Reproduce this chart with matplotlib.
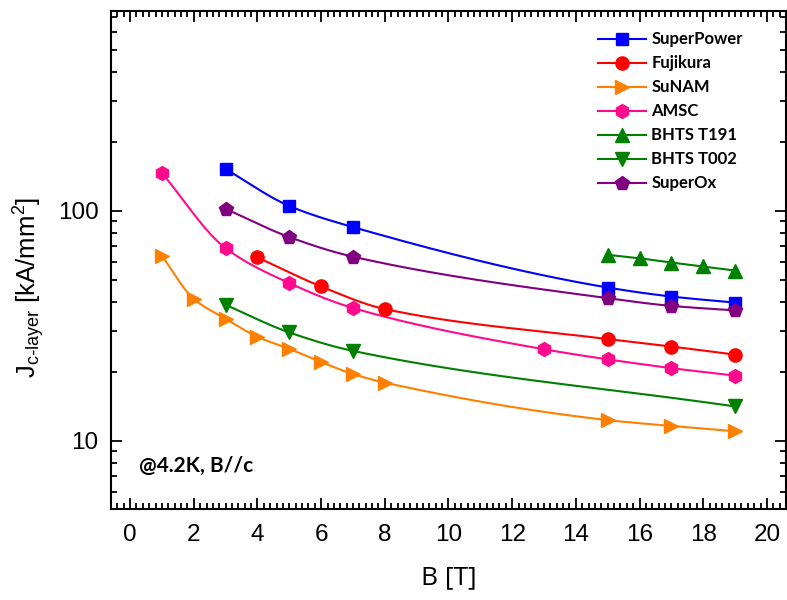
import numpy as np
import matplotlib
matplotlib.use("Agg")
import matplotlib.pyplot as plt
from matplotlib.ticker import MultipleLocator, LogLocator, NullFormatter, FixedLocator, FixedFormatter

# ---------------- data ----------------
sp_B = [3, 5, 7, 15, 17, 19]
sp_J = [152, 105, 85, 46.4, 42.4, 39.9]

fj_B = [4, 6, 8, 15, 17, 19]
fj_J = [62.7, 46.9, 37.4, 27.7, 25.7, 23.7]

sn_B = [1, 2, 3, 4, 5, 6, 7, 8, 15, 17, 19]
sn_J = [63.7, 41.4, 33.9, 28.3, 25.1, 22.0, 19.5, 17.9, 12.3, 11.6, 11.0]

am_B = [1, 3, 5, 7, 13, 15, 17, 19]
am_J = [146, 68.8, 48.5, 37.8, 25.0, 22.6, 20.7, 19.2]

t191_B = [15, 16, 17, 18, 19]
t191_J = [64.4, 62.2, 59.6, 57.3, 55.0]

t002_B = [3, 5, 7, 19]
t002_J = [39.0, 29.6, 24.6, 14.1]

so_B = [3, 5, 7, 15, 17, 19]
so_J = [102, 76.9, 63.2, 41.7, 38.6, 36.9]

series = [
    ("SuperPower", sp_B, sp_J, "#0000FF", "s", 9),
    ("Fujikura", fj_B, fj_J, "#FF0000", "o", 9.5),
    ("SuNAM", sn_B, sn_J, "#FF8000", ">", 10),
    ("AMSC", am_B, am_J, "#FF0A8C", "h", 10),
    ("BHTS T191", t191_B, t191_J, "#008000", "^", 10),
    ("BHTS T002", t002_B, t002_J, "#008000", "v", 10),
    ("SuperOx", so_B, so_J, "#800080", "p", 10.5),
]

x_ticks = [0, 2, 4, 6, 8, 10, 12, 14, 16, 18, 20]
y_ticks = [10, 100]
y_tick_labels = ["10", "100"]


def smooth(xs, ys, n=40):
    """Monotone cubic (Fritsch-Carlson) through points, in log-y space."""
    x = np.asarray(xs, float)
    y = np.log10(np.asarray(ys, float))
    if len(x) < 3:
        return x, 10 ** y
    h = np.diff(x)
    d = np.diff(y) / h
    m = np.zeros_like(y)
    m[0] = d[0]
    m[-1] = d[-1]
    for i in range(1, len(x) - 1):
        if d[i - 1] * d[i] <= 0:
            m[i] = 0
        else:
            w1 = 2 * h[i] + h[i - 1]
            w2 = h[i] + 2 * h[i - 1]
            m[i] = (w1 + w2) / (w1 / d[i - 1] + w2 / d[i])
    xo, yo = [], []
    for i in range(len(x) - 1):
        t = np.linspace(0, 1, n, endpoint=(i == len(x) - 2))
        h00 = 2 * t**3 - 3 * t**2 + 1
        h10 = t**3 - 2 * t**2 + t
        h01 = -2 * t**3 + 3 * t**2
        h11 = t**3 - t**2
        xo.append(x[i] + t * h[i])
        yo.append(h00 * y[i] + h10 * h[i] * m[i] + h01 * y[i + 1] + h11 * h[i] * m[i + 1])
    return np.concatenate(xo), 10 ** np.concatenate(yo)


plt.rcParams['mathtext.default'] = 'regular'

fig = plt.figure(figsize=(7.87, 6.0), dpi=100)
ax = fig.add_axes([111 / 787, 1 - 509 / 600, 675 / 787, 498 / 600])

for name, B, J, c, mk, ms in series:
    xs, ys = smooth(B, J)
    ax.plot(xs, ys, color=c, lw=1.5, zorder=2)
    ax.plot(B, J, linestyle="none", marker=mk, color=c, ms=ms, mec=c, zorder=3)
    ax.plot([], [], color=c, lw=1.5, marker=mk, ms=ms, mec=c, label=name)

ax.set_yscale("log")
ax.set_xlim(-0.6, 20.6)
ax.set_ylim(5.05, 740)

ax.xaxis.set_major_locator(FixedLocator(x_ticks))
ax.xaxis.set_major_formatter(FixedFormatter([str(t) for t in x_ticks]))
ax.xaxis.set_minor_locator(MultipleLocator(0.2))
ax.yaxis.set_major_locator(FixedLocator(y_ticks))
ax.yaxis.set_major_formatter(FixedFormatter(y_tick_labels))
ax.yaxis.set_minor_locator(LogLocator(base=10, subs=np.arange(2, 10), numticks=20))
ax.yaxis.set_minor_formatter(NullFormatter())

tick_font = 'Liberation Sans'
ax.tick_params(which="both", direction="in", top=True, right=True, width=1.3, color="black")
ax.tick_params(which="major", length=8)
ax.tick_params(axis="x", which="major", pad=11)
ax.tick_params(axis="y", which="major", pad=9)
ax.tick_params(which="minor", length=4)
for lbl in ax.get_xticklabels() + ax.get_yticklabels():
    lbl.set_fontfamily(tick_font)
    lbl.set_fontsize(17.5)
for s in ax.spines.values():
    s.set_linewidth(1.5)

ax.set_xlabel("B [T]", fontsize=19, family="Open Sans", labelpad=14)
ax.set_ylabel(r"J$_{\mathregular{c\text{-}layer}}$ [kA/mm$^{\mathregular{2}}$]",
              fontsize=18.5, family="Liberation Sans")
ax.yaxis.set_label_coords(-0.095, 0.444)

ax.text(0.041, 0.086, "@4.2K, B//c", transform=ax.transAxes, fontsize=15,
        fontweight="bold", family="Lato", va="center", ha="left")

leg = ax.legend(loc="upper left", bbox_to_anchor=(0.7215, 0.959), frameon=False,
                borderpad=0, borderaxespad=0, handlelength=2.9, handletextpad=0.3,
                labelspacing=0.48, prop={"family": "Lato", "weight": "bold", "size": 12})

fig.savefig("out.png", dpi=100)
